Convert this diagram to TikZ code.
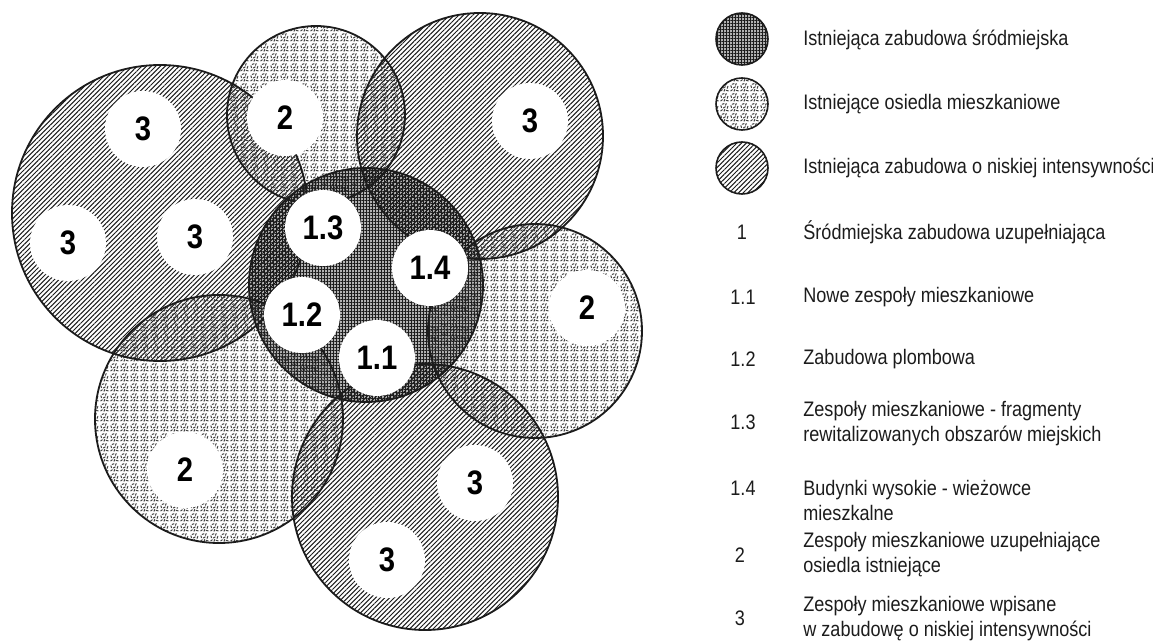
\documentclass[tikz,border=0pt]{standalone}
\usepackage{fontspec}
\setmainfont{Liberation Sans}[FakeStretch=0.86]
\usetikzlibrary{patterns,patterns.meta}
\definecolor{inkgray}{HTML}{1C1C1C}
\newcommand{\legfont}{\fontsize{10.5}{12.5}\selectfont}
\newcommand{\blobfont}{\bfseries\fontsize{17}{17}\selectfont}

\pgfdeclarepatternformonly{estate}{\pgfqpoint{0pt}{0pt}}{\pgfqpoint{5pt}{5pt}}{\pgfqpoint{5pt}{5pt}}{
  \pgfsetlinewidth{0.55pt}
  \pgfsetroundcap
  \pgfpathmoveto{\pgfqpoint{0.4pt}{0.6pt}}\pgfpathlineto{\pgfqpoint{1.3pt}{1.2pt}}
  \pgfpathmoveto{\pgfqpoint{2.2pt}{0.4pt}}\pgfpathlineto{\pgfqpoint{2.6pt}{1.4pt}}
  \pgfpathmoveto{\pgfqpoint{3.4pt}{0.9pt}}\pgfpathlineto{\pgfqpoint{4.5pt}{0.6pt}}
  \pgfpathmoveto{\pgfqpoint{0.8pt}{2.4pt}}\pgfpathlineto{\pgfqpoint{0.5pt}{3.4pt}}
  \pgfpathmoveto{\pgfqpoint{1.8pt}{2.2pt}}\pgfpathlineto{\pgfqpoint{2.9pt}{2.8pt}}
  \pgfpathmoveto{\pgfqpoint{3.9pt}{2.0pt}}\pgfpathlineto{\pgfqpoint{4.3pt}{3.1pt}}
  \pgfpathmoveto{\pgfqpoint{1.2pt}{4.2pt}}\pgfpathlineto{\pgfqpoint{2.2pt}{4.5pt}}
  \pgfpathmoveto{\pgfqpoint{3.0pt}{3.7pt}}\pgfpathlineto{\pgfqpoint{3.4pt}{4.6pt}}
  \pgfusepath{stroke}
}

\begin{document}
\begin{tikzpicture}[x=0.5pt,y=-0.5pt,
  hatchzone/.style={pattern={Lines[angle=45,distance=1.65pt,line width=0.5pt]},pattern color=inkgray},
  meshzone/.style={preaction={fill=black,fill opacity=0.3},pattern={Hatch[angle=0,distance=1.5pt,line width=0.5pt]},pattern color=inkgray},
  estatezone/.style={pattern=estate,pattern color=black!75},
  rim/.style={draw=inkgray,line width=0.9pt},
  blob/.style={circle,fill=white,minimum size=38pt,inner sep=0pt,font=\blobfont,text=black},
  legcirc/.style={circle,minimum size=26pt,inner sep=0pt,draw=inkgray,line width=0.8pt},
  legnum/.style={font=\legfont,inner sep=0pt,text=inkgray},
  legtxt/.style={anchor=west,align=left,font=\legfont,inner sep=0pt,text=inkgray}]
\fill[white] (0,0) rectangle (1153,642);
\useasboundingbox (0,0) rectangle (1153,642);

\fill[hatchzone] (160,213) circle (148);
\fill[estatezone] (316,115) circle (89);
\fill[hatchzone] (480,136) circle (123);
\fill[meshzone] (366,285) circle (117);
\fill[estatezone] (535,331) circle (107);
\fill[estatezone] (219,419) circle (124);
\fill[hatchzone] (425,497) circle (133);

\draw[rim] (160,213) circle (148);
\draw[rim] (316,115) circle (89);
\draw[rim] (480,136) circle (123);
\draw[rim] (366,285) circle (117);
\draw[rim] (535,331) circle (107);
\draw[rim] (219,419) circle (124);
\draw[rim] (425,497) circle (133);

\node[blob] (lowA) at (143,129) {3};
\node[blob] (lowB) at (68,243) {3};
\node[blob] (lowC) at (195,237) {3};
\node[blob] (estA) at (285,118) {2};
\node[blob] (lowD) at (530,121) {3};
\node[blob] (cityC) at (323,228) {1.3};
\node[blob] (cityD) at (430,268) {1.4};
\node[blob] (cityB) at (302,315) {1.2};
\node[blob] (cityA) at (377,358) {1.1};
\node[blob] (estB) at (587,308) {2};
\node[blob] (estC) at (185,470) {2};
\node[blob] (lowE) at (475,483) {3};
\node[blob] (lowF) at (387,560) {3};

\node[legcirc,meshzone] (keyCity) at (742,39) {};
\node[legcirc,estatezone] (keyEstate) at (742,104) {};
\node[legcirc,hatchzone] (keyLow) at (742,168) {};
\node[legtxt] (txtCity) at (803,40) {Istniejąca zabudowa śródmiejska};
\node[legtxt] (txtEstate) at (803,104) {Istniejące osiedla mieszkaniowe};
\node[legtxt] (txtLow) at (803,168) {Istniejąca zabudowa o niskiej intensywności};

\node[legnum] (num1) at (742,232) {1};
\node[legnum] (num11) at (743,297) {1.1};
\node[legnum] (num12) at (743,359) {1.2};
\node[legnum] (num13) at (743,422) {1.3};
\node[legnum] (num14) at (743,488) {1.4};
\node[legnum] (num2) at (740,555) {2};
\node[legnum] (num3) at (740,618) {3};
\node[legtxt] (txt1) at (803,232) {Śródmiejska zabudowa uzupełniająca};
\node[legtxt] (txt11) at (803,297) {Nowe zespoły mieszkaniowe};
\node[legtxt] (txt12) at (803,359) {Zabudowa plombowa};
\node[legtxt] (txt13) at (803,424) {Zespoły mieszkaniowe - fragmenty\\rewitalizowanych obszarów miejskich};
\node[legtxt] (txt14) at (803,500) {Budynki wysokie - wieżowce\\mieszkalne};
\node[legtxt] (txt2) at (803,555) {Zespoły mieszkaniowe uzupełniające\\osiedla istniejące};
\node[legtxt] (txt3) at (803,619) {Zespoły mieszkaniowe wpisane\\w zabudowę o niskiej intensywności};
\end{tikzpicture}
\end{document}
